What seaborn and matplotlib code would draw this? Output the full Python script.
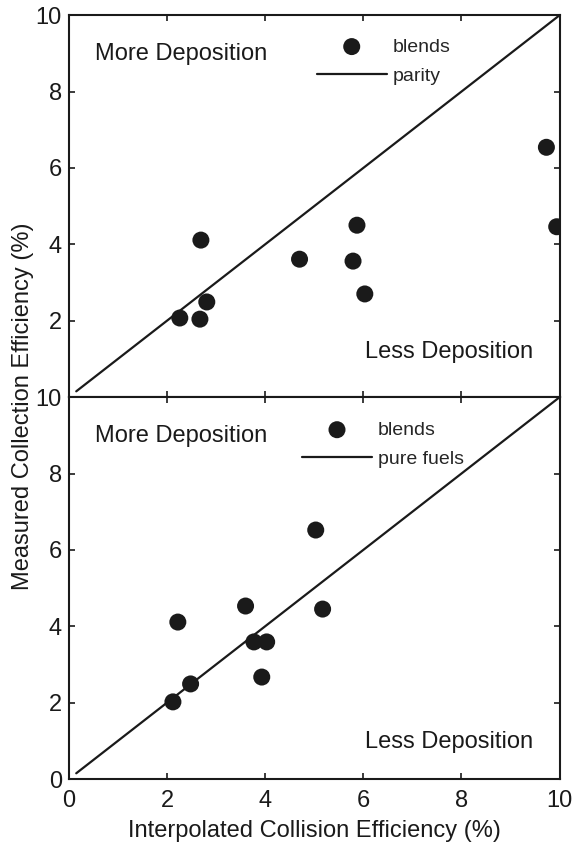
import matplotlib
matplotlib.use("Agg")
import matplotlib.pyplot as plt
import seaborn as sns
import pandas as pd

# ---- data ----
top_x = [2.26, 2.67, 2.81, 2.69, 4.70, 5.87, 5.79, 6.03, 9.73, 9.94]
top_y = [2.07, 2.04, 2.49, 4.11, 3.61, 4.50, 3.56, 2.70, 6.54, 4.46]
bot_x = [2.12, 2.48, 2.22, 3.60, 3.77, 4.03, 3.93, 5.03, 5.17]
bot_y = [2.02, 2.49, 4.11, 4.53, 3.59, 3.59, 2.67, 6.52, 4.45]
line_x = [0.15, 10.0]
line_y = [0.15, 10.0]
ticks = [0, 2, 4, 6, 8, 10]
top_yticklabels = ["", "2", "4", "6", "8", "10"]
bot_ticklabels = ["0", "2", "4", "6", "8", "10"]
top_legend = ["blends", "parity"]
bot_legend = ["blends", "pure fuels"]

sns.set_style("ticks")
plt.rcParams["font.family"] = ["Liberation Sans", "DejaVu Sans"]

fig = plt.figure(figsize=(5.74, 8.43), dpi=100)
ax1 = fig.add_axes([0.120, 0.529, 0.855, 0.453])
ax2 = fig.add_axes([0.120, 0.0759, 0.855, 0.453])

FS = 17

def draw(ax, xs, ys, labels, less_y, leg_x, leg_y):
    df = pd.DataFrame({"x": xs, "y": ys})
    sns.scatterplot(data=df, x="x", y="y", ax=ax, s=150, color="#1a1a1a",
                    edgecolor="none", label=labels[0], zorder=3)
    ldf = pd.DataFrame({"x": line_x, "y": line_y})
    sns.lineplot(data=ldf, x="x", y="y", ax=ax, color="#1a1a1a", linewidth=1.6,
                 label=labels[1], zorder=2)
    ax.set_xlim(0, 10)
    ax.set_ylim(0, 10)
    ax.set_xticks(ticks)
    ax.set_yticks(ticks)
    ax.tick_params(direction="in", length=4.5, width=1.2, top=True, right=True,
                   labelsize=FS, colors="#1a1a1a")
    ax.tick_params(axis="x", pad=8)
    ax.tick_params(axis="y", pad=5)
    for s in ax.spines.values():
        s.set_linewidth(1.5)
        s.set_color("#1a1a1a")
        s.set_visible(True)
    ax.set_xlabel("")
    ax.set_ylabel("")
    ax.text(0.53, 8.98, "More Deposition", fontsize=FS, va="center", ha="left", color="#1a1a1a")
    ax.text(6.03, less_y, "Less Deposition", fontsize=FS, va="center", ha="left", color="#1a1a1a")
    h, l = ax.get_legend_handles_labels()
    ax.legend(h, l, loc="upper left", bbox_to_anchor=(leg_x, leg_y), frameon=False,
              fontsize=14, borderpad=0, borderaxespad=0, handlelength=3.6,
              handletextpad=0.3, labelspacing=0.6, markerscale=1.0)

draw(ax1, top_x, top_y, top_legend, 1.18, 0.505, 0.94)
draw(ax2, bot_x, bot_y, bot_legend, 0.97, 0.475, 0.937)

ax1.set_yticklabels(top_yticklabels)
ax1.set_xticklabels([])
ax2.set_yticklabels(bot_ticklabels)
ax2.set_xticklabels(bot_ticklabels)
ax2.set_xlabel("Interpolated Collision Efficiency (%)", fontsize=FS, labelpad=6, color="#1a1a1a")

fig.text(0.040, 0.518, "Measured Collection Efficiency (%)", rotation=90,
         fontsize=FS, va="center", ha="center", color="#1a1a1a")

fig.savefig("out.png", dpi=100)
